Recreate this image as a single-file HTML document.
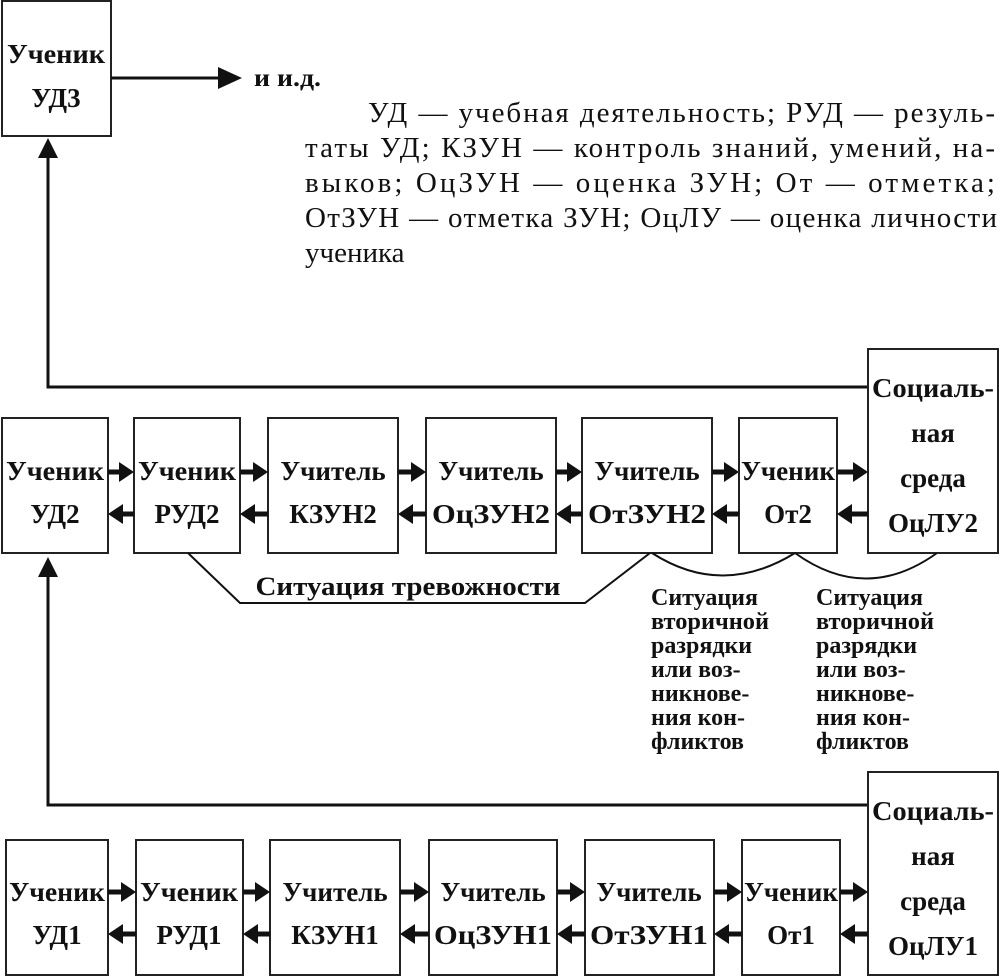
<!DOCTYPE html>
<html><head><meta charset="utf-8"><style>
html,body{margin:0;padding:0;background:#fff;}
svg{display:block;}
.b{font-family:"Liberation Serif","Noto Serif CJK SC",serif;font-weight:bold;font-size:27px;fill:#111;}
.s{font-family:"Liberation Serif","Noto Serif CJK SC",serif;font-weight:bold;font-size:24px;fill:#111;}
.p{font-family:"Liberation Serif","Noto Serif CJK SC",serif;font-size:29px;fill:#111;}
rect{fill:#fff;stroke:#222;stroke-width:2;}
.l{stroke:#111;stroke-width:3;fill:none;}
.k{stroke:#111;stroke-width:5;fill:none;}
.t{stroke:#111;stroke-width:2;fill:none;}
</style></head><body>
<svg width="1000" height="978" viewBox="0 0 1000 978" xmlns="http://www.w3.org/2000/svg">

<!-- top box -->
<rect x="2" y="1" width="109" height="135"/>
<text class="b" x="56" y="63" text-anchor="middle" textLength="98" lengthAdjust="spacingAndGlyphs">Ученик</text>
<text class="b" x="56" y="107" text-anchor="middle">УД3</text>
<line class="l" x1="111" y1="78" x2="228" y2="78"/>
<path d="M218,67 L242,78 L218,89 z" fill="#111"/>
<text class="b" x="254" y="86" style="font-size:25px" textLength="67" lengthAdjust="spacingAndGlyphs">и и.д.</text>

<text class="p" x="368" y="122" textLength="627" lengthAdjust="spacing">УД — учебная деятельность; РУД — резуль-</text>
<text class="p" x="305" y="157" textLength="690" lengthAdjust="spacing">таты УД; КЗУН — контроль знаний, умений, на-</text>
<text class="p" x="305" y="192" textLength="690" lengthAdjust="spacing">выков; ОцЗУН — оценка ЗУН; От — отметка;</text>
<text class="p" x="305" y="227" textLength="692" lengthAdjust="spacing">ОтЗУН — отметка ЗУН; ОцЛУ — оценка личности</text>
<text class="p" x="305" y="262">ученика</text>

<!-- feedback top -->
<polyline class="l" points="868,387 48,387 48,155"/>
<path d="M38,158 L48,138 L58,158 z" fill="#111"/>

<!-- middle row -->
<rect x="868" y="349" width="130" height="204"/>
<text class="b" x="933" y="397" text-anchor="middle" textLength="122" lengthAdjust="spacingAndGlyphs">Социаль-</text>
<text class="b" x="933" y="442" text-anchor="middle">ная</text>
<text class="b" x="933" y="487" text-anchor="middle">среда</text>
<text class="b" x="933" y="532" text-anchor="middle">ОцЛУ2</text>

<g>
<rect x="2" y="418" width="106" height="135"/>
<rect x="134" y="418" width="106" height="135"/>
<rect x="268" y="418" width="130" height="135"/>
<rect x="426" y="418" width="130" height="135"/>
<rect x="582" y="418" width="130" height="135"/>
<rect x="739" y="418" width="98" height="135"/>
<text class="b" x="55" y="480" text-anchor="middle" textLength="98" lengthAdjust="spacingAndGlyphs">Ученик</text><text class="b" x="55" y="523" text-anchor="middle">УД2</text>
<text class="b" x="187" y="480" text-anchor="middle" textLength="98" lengthAdjust="spacingAndGlyphs">Ученик</text><text class="b" x="187" y="523" text-anchor="middle">РУД2</text>
<text class="b" x="333" y="480" text-anchor="middle">Учитель</text><text class="b" x="333" y="523" text-anchor="middle">КЗУН2</text>
<text class="b" x="491" y="480" text-anchor="middle">Учитель</text><text class="b" x="491" y="523" text-anchor="middle" textLength="118" lengthAdjust="spacingAndGlyphs">ОцЗУН2</text>
<text class="b" x="647" y="480" text-anchor="middle">Учитель</text><text class="b" x="647" y="523" text-anchor="middle" textLength="118" lengthAdjust="spacingAndGlyphs">ОтЗУН2</text>
<text class="b" x="788" y="480" text-anchor="middle" textLength="94" lengthAdjust="spacingAndGlyphs">Ученик</text><text class="b" x="788" y="523" text-anchor="middle">От2</text>
</g>
<g class="k">
<line x1="108" y1="472" x2="122" y2="472"/><line x1="240" y1="472" x2="256" y2="472"/><line x1="398" y1="472" x2="414" y2="472"/><line x1="556" y1="472" x2="570" y2="472"/><line x1="712" y1="472" x2="727" y2="472"/><line x1="837" y1="472" x2="856" y2="472"/>
<line x1="122" y1="514" x2="134" y2="514"/><line x1="254" y1="514" x2="268" y2="514"/><line x1="412" y1="514" x2="426" y2="514"/><line x1="568" y1="514" x2="582" y2="514"/><line x1="724" y1="514" x2="739" y2="514"/><line x1="852" y1="514" x2="868" y2="514"/>
</g>
<g fill="#111">
<path d="M119,462 L134,472 L119,482 z"/><path d="M253,462 L268,472 L253,482 z"/><path d="M411,462 L426,472 L411,482 z"/><path d="M567,462 L582,472 L567,482 z"/><path d="M724,462 L739,472 L724,482 z"/><path d="M853,462 L868,472 L853,482 z"/>
<path d="M123,504 L108,514 L123,524 z"/><path d="M255,504 L240,514 L255,524 z"/><path d="M413,504 L398,514 L413,524 z"/><path d="M571,504 L556,514 L571,524 z"/><path d="M727,504 L712,514 L727,524 z"/><path d="M852,504 L837,514 L852,524 z"/>
</g>

<polyline class="t" points="188,553 240,603 585,603 650,553"/>
<text class="b" x="408" y="595" text-anchor="middle" textLength="305" lengthAdjust="spacingAndGlyphs" style="font-size:26px">Ситуация тревожности</text>
<path class="t" d="M652,553 Q722,598 795,553"/>
<path class="t" d="M795,553 Q866,604 937,553"/>

<g class="s">
<text x="651" y="605">Ситуация</text><text x="651" y="629" textLength="118" lengthAdjust="spacingAndGlyphs">вторичной</text><text x="651" y="653">разрядки</text><text x="651" y="677">или воз-</text><text x="651" y="701">никнове-</text><text x="651" y="725">ния кон-</text><text x="651" y="749">фликтов</text>
<text x="816" y="605">Ситуация</text><text x="816" y="629" textLength="118" lengthAdjust="spacingAndGlyphs">вторичной</text><text x="816" y="653">разрядки</text><text x="816" y="677">или воз-</text><text x="816" y="701">никнове-</text><text x="816" y="725">ния кон-</text><text x="816" y="749">фликтов</text>
</g>

<!-- feedback bottom -->
<polyline class="l" points="868,805 48,805 48,574"/>
<path d="M38,577 L48,557 L58,577 z" fill="#111"/>

<!-- bottom row -->
<rect x="868" y="772" width="130" height="203"/>
<text class="b" x="933" y="820" text-anchor="middle" textLength="122" lengthAdjust="spacingAndGlyphs">Социаль-</text>
<text class="b" x="933" y="865" text-anchor="middle">ная</text>
<text class="b" x="933" y="910" text-anchor="middle">среда</text>
<text class="b" x="933" y="955" text-anchor="middle">ОцЛУ1</text>
<g>
<rect x="6" y="840" width="102" height="135"/>
<rect x="136" y="840" width="107" height="135"/>
<rect x="270" y="840" width="130" height="135"/>
<rect x="429" y="840" width="128" height="135"/>
<rect x="585" y="840" width="129" height="135"/>
<rect x="742" y="840" width="98" height="135"/>
<text class="b" x="57" y="901" text-anchor="middle" textLength="96" lengthAdjust="spacingAndGlyphs">Ученик</text><text class="b" x="57" y="944" text-anchor="middle">УД1</text>
<text class="b" x="189" y="901" text-anchor="middle" textLength="98" lengthAdjust="spacingAndGlyphs">Ученик</text><text class="b" x="189" y="944" text-anchor="middle">РУД1</text>
<text class="b" x="335" y="901" text-anchor="middle">Учитель</text><text class="b" x="335" y="944" text-anchor="middle">КЗУН1</text>
<text class="b" x="493" y="901" text-anchor="middle">Учитель</text><text class="b" x="493" y="944" text-anchor="middle" textLength="118" lengthAdjust="spacingAndGlyphs">ОцЗУН1</text>
<text class="b" x="649" y="901" text-anchor="middle">Учитель</text><text class="b" x="649" y="944" text-anchor="middle" textLength="118" lengthAdjust="spacingAndGlyphs">ОтЗУН1</text>
<text class="b" x="791" y="901" text-anchor="middle" textLength="94" lengthAdjust="spacingAndGlyphs">Ученик</text><text class="b" x="791" y="944" text-anchor="middle">От1</text>
</g>
<g class="k">
<line x1="108" y1="892" x2="124" y2="892"/><line x1="243" y1="892" x2="258" y2="892"/><line x1="400" y1="892" x2="417" y2="892"/><line x1="557" y1="892" x2="573" y2="892"/><line x1="714" y1="892" x2="730" y2="892"/><line x1="840" y1="892" x2="856" y2="892"/>
<line x1="122" y1="934" x2="136" y2="934"/><line x1="257" y1="934" x2="270" y2="934"/><line x1="414" y1="934" x2="429" y2="934"/><line x1="571" y1="934" x2="585" y2="934"/><line x1="728" y1="934" x2="742" y2="934"/><line x1="854" y1="934" x2="868" y2="934"/>
</g>
<g fill="#111">
<path d="M121,882 L136,892 L121,902 z"/><path d="M255,882 L270,892 L255,902 z"/><path d="M414,882 L429,892 L414,902 z"/><path d="M570,882 L585,892 L570,902 z"/><path d="M727,882 L742,892 L727,902 z"/><path d="M853,882 L868,892 L853,902 z"/>
<path d="M123,924 L108,934 L123,944 z"/><path d="M258,924 L243,934 L258,944 z"/><path d="M415,924 L400,934 L415,944 z"/><path d="M572,924 L557,934 L572,944 z"/><path d="M729,924 L714,934 L729,944 z"/><path d="M855,924 L840,934 L855,944 z"/>
</g>
</svg>
</body></html>
